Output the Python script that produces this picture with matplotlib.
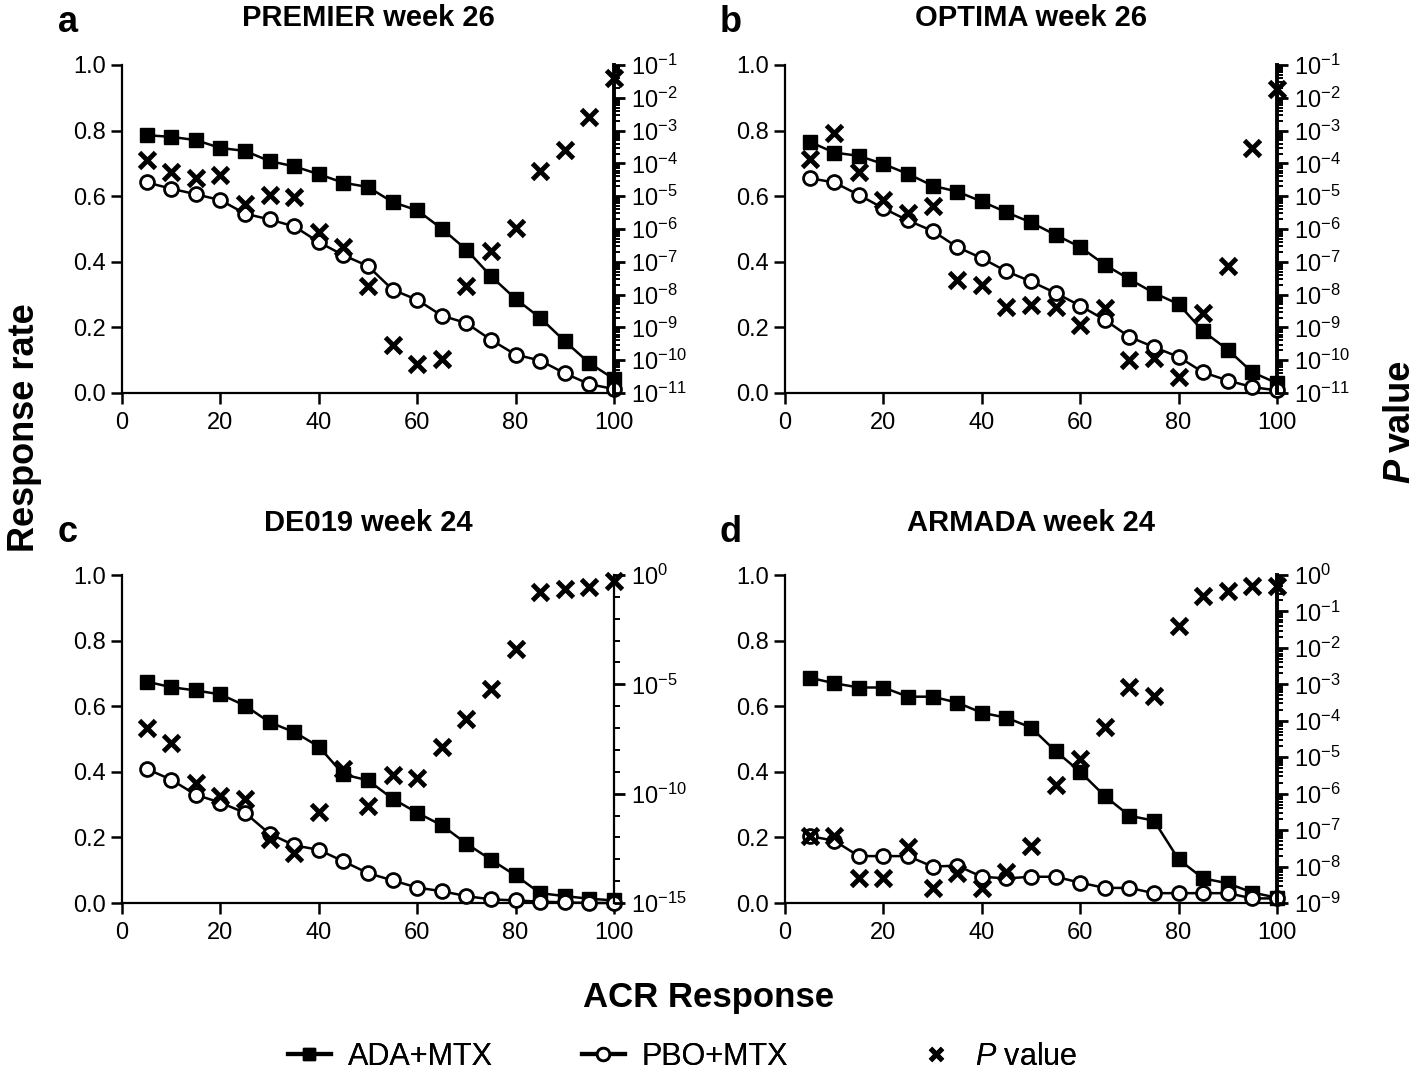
import numpy as np
import matplotlib
matplotlib.use('Agg')
import matplotlib.pyplot as plt
from matplotlib.ticker import LogLocator, FixedLocator, NullFormatter, MultipleLocator
from matplotlib.lines import Line2D

plt.rcParams['font.family'] = ['Liberation Sans', 'DejaVu Sans']
plt.rcParams['mathtext.fontset'] = 'custom'
plt.rcParams['mathtext.rm'] = 'Liberation Sans'
plt.rcParams['mathtext.it'] = 'Liberation Sans:italic'
plt.rcParams['mathtext.bf'] = 'Liberation Sans:bold'
plt.rcParams['axes.unicode_minus'] = False

# ============================================================
# DATA
# ============================================================
acr = [5, 10, 15, 20, 25, 30, 35, 40, 45, 50, 55, 60, 65, 70, 75, 80, 85, 90, 95, 100]

# a: PREMIER week 26
ada_a = [0.786, 0.781, 0.771, 0.747, 0.738, 0.707, 0.691, 0.667, 0.641, 0.628,
         0.582, 0.557, 0.501, 0.437, 0.356, 0.287, 0.229, 0.158, 0.091, 0.043]
pbo_a = [0.642, 0.623, 0.606, 0.588, 0.547, 0.529, 0.508, 0.460, 0.420, 0.387,
         0.315, 0.284, 0.236, 0.213, 0.162, 0.117, 0.099, 0.060, 0.027, 0.012]
p_a = [1.3e-4, 5.5e-5, 3.5e-5, 4.4e-5, 5.9e-6, 1.1e-5, 9.5e-6, 8.1e-7, 2.8e-7, 1.8e-8,
       3.0e-10, 7.4e-11, 1.1e-10, 1.8e-8, 2.2e-7, 1.1e-6, 5.9e-5, 2.6e-4, 2.6e-3, 3.9e-2]

# b: OPTIMA week 26
ada_b = [0.766, 0.733, 0.723, 0.698, 0.668, 0.632, 0.614, 0.584, 0.551, 0.520,
         0.482, 0.445, 0.391, 0.347, 0.305, 0.271, 0.188, 0.132, 0.063, 0.030]
pbo_b = [0.655, 0.642, 0.604, 0.563, 0.526, 0.494, 0.445, 0.411, 0.371, 0.340,
         0.305, 0.266, 0.223, 0.171, 0.140, 0.110, 0.063, 0.038, 0.018, 0.008]
p_b = [1.4e-4, 8.7e-4, 5.6e-5, 7.4e-6, 3.0e-6, 5.1e-6, 2.8e-8, 2.0e-8, 4.3e-9, 4.9e-9,
       4.3e-9, 1.2e-9, 3.9e-9, 1.0e-10, 1.2e-10, 3.1e-11, 2.7e-9, 7.2e-8, 2.9e-4, 1.8e-2]

# c: DE019 week 24
ada_c = [0.675, 0.658, 0.648, 0.636, 0.602, 0.551, 0.521, 0.477, 0.392, 0.374,
         0.318, 0.275, 0.237, 0.181, 0.132, 0.084, 0.030, 0.021, 0.013, 0.008]
pbo_c = [0.409, 0.376, 0.330, 0.306, 0.275, 0.211, 0.176, 0.162, 0.127, 0.091,
         0.069, 0.047, 0.036, 0.021, 0.011, 0.008, 0.004, 0.002, 0.000, 0.000]
p_c = [1.0e-7, 2.1e-8, 3.1e-10, 7.9e-11, 5.6e-11, 8.1e-13, 2.0e-13, 1.4e-11, 1.3e-9, 2.6e-11,
       7.4e-10, 5.1e-10, 1.3e-8, 2.5e-7, 6.0e-6, 4.1e-4, 0.17, 0.22, 0.28, 0.56]

# d: ARMADA week 24
ada_d = [0.687, 0.670, 0.657, 0.657, 0.629, 0.629, 0.611, 0.580, 0.565, 0.535,
         0.463, 0.400, 0.326, 0.266, 0.251, 0.133, 0.075, 0.060, 0.032, 0.016]
pbo_d = [0.204, 0.190, 0.143, 0.143, 0.143, 0.111, 0.114, 0.080, 0.075, 0.080,
         0.080, 0.062, 0.046, 0.046, 0.030, 0.030, 0.030, 0.030, 0.014, 0.014]
p_d = [6.9e-8, 6.9e-8, 4.9e-9, 4.9e-9, 3.5e-8, 2.6e-9, 6.5e-9, 2.6e-9, 7.2e-9, 3.7e-8,
       1.7e-6, 8.7e-6, 6.9e-5, 8.3e-4, 4.8e-4, 0.040, 0.26, 0.37, 0.50, 0.50]

titles = ['PREMIER week 26', 'OPTIMA week 26', 'DE019 week 24', 'ARMADA week 24']
letters = ['a', 'b', 'c', 'd']
p_limits = [(1e-11, 1e-1), (1e-11, 1e-1), (1e-15, 1e0), (1e-9, 1e0)]
legend_labels = ['ADA+MTX', 'PBO+MTX', r'$\it{P}$ value']

# ============================================================
# FIGURE
# ============================================================
W, H = 1418, 1074
fig = plt.figure(figsize=(W/100, H/100), dpi=100)

def rect(x0, y0, x1, y1):
    return [x0/W, 1 - y1/H, (x1 - x0)/W, (y1 - y0)/H]

rects = [rect(122, 65, 614, 393), rect(785, 65, 1277, 393),
         rect(122, 575, 614, 903), rect(785, 575, 1277, 903)]

panels = [(ada_a, pbo_a, p_a), (ada_b, pbo_b, p_b), (ada_c, pbo_c, p_c), (ada_d, pbo_d, p_d)]

for i, (ada, pbo, pv) in enumerate(panels):
    ax = fig.add_axes(rects[i])
    ax.plot(acr, ada, '-', color='black', lw=1.8, marker='s', ms=10,
            mfc='black', mec='black', clip_on=False, zorder=3)
    ax.plot(acr, pbo, '-', color='black', lw=1.8, marker='o', ms=10,
            mfc='white', mec='black', mew=2, clip_on=False, zorder=4)
    ax.set_xlim(0, 100)
    ax.set_ylim(0, 1.0)
    ax.xaxis.set_major_locator(MultipleLocator(20))
    ax.yaxis.set_major_locator(MultipleLocator(0.2))
    ax.yaxis.set_major_formatter(plt.FuncFormatter(lambda v, _: f'{v:.1f}'))
    for s in ['top', 'right']:
        ax.spines[s].set_visible(False)
    for s in ['left', 'bottom']:
        ax.spines[s].set_linewidth(1.6)
    ax.tick_params(direction='out', length=8, width=1.8, labelsize=17)
    ax.tick_params(axis='x', pad=6)

    ax2 = ax.twinx()
    ax2.plot(acr, pv, linestyle='none', marker='x', ms=11, mew=3.5,
             color='black', clip_on=False, zorder=5)
    ax2.set_yscale('log')
    ax2.set_ylim(*p_limits[i])
    for s in ['top', 'left', 'bottom']:
        ax2.spines[s].set_visible(False)
    if i == 2:
        ax2.yaxis.set_major_locator(FixedLocator([1e-15, 1e-10, 1e-5, 1e0]))
        ax2.yaxis.set_minor_locator(FixedLocator([10.0**k for k in range(-15, 1)]))
        ax2.spines['right'].set_linewidth(1.6)
    else:
        ax2.yaxis.set_major_locator(LogLocator(base=10, numticks=30))
        ax2.yaxis.set_minor_locator(LogLocator(base=10, subs=np.arange(2, 10), numticks=200))
        ax2.spines['right'].set_linewidth(2.8)
    ax2.yaxis.set_minor_formatter(NullFormatter())
    ax2.tick_params(axis='y', which='major', direction='out', length=8, width=2,
                    labelsize=17, pad=4)
    ax2.tick_params(axis='y', which='minor', direction='out', length=4, width=1.4)

    # titles and panel letters
    cx = (rects[i][0] + rects[i][2]/2)
    ty = 1 - (18 if i < 2 else 523)/H
    fig.text(cx, ty, titles[i], ha='center', va='center', fontsize=21, fontweight='bold')
    lx = (68 if i % 2 == 0 else 731)/W
    ly = 1 - (22 if i < 2 else 533)/H
    fig.text(lx, ly, letters[i], ha='center', va='center', fontsize=26, fontweight='bold')

# ============================================================
# SHARED LABELS + LEGEND
# ============================================================
fig.text(25/W, 1 - 428/H, 'Response rate', rotation=90, ha='center', va='center',
         fontsize=26, fontweight='bold')
fig.text(709/W, 1 - 998/H, 'ACR Response', ha='center', va='center',
         fontsize=25, fontweight='bold')
fig.text(1400/W, 1 - 452/H, 'value', rotation=90, ha='center', va='bottom',
         fontsize=26, fontweight='bold')
fig.text(1400/W, 1 - 459/H, 'P', rotation=90, ha='center', va='top',
         fontsize=26, fontweight='bold', fontstyle='italic')

handles = [
    Line2D([], [], color='black', lw=3, marker='s', ms=9, mfc='black'),
    Line2D([], [], color='black', lw=3, marker='o', ms=9, mfc='white', mew=2),
    Line2D([], [], linestyle='none', color='black', marker='x', ms=9, mew=3.5),
]
legend_x = [288, 582, 915]
for h, lab, lx in zip(handles, legend_labels, legend_x):
    leg = fig.legend([h], [lab], loc='center left', bbox_to_anchor=(lx/W, 1 - 1057/H),
                     frameon=False, fontsize=22, handlelength=1.4, handletextpad=0.55,
                     borderpad=0, borderaxespad=0)
    fig.add_artist(leg)

fig.savefig('out.png', dpi=100)
plt.close(fig)
